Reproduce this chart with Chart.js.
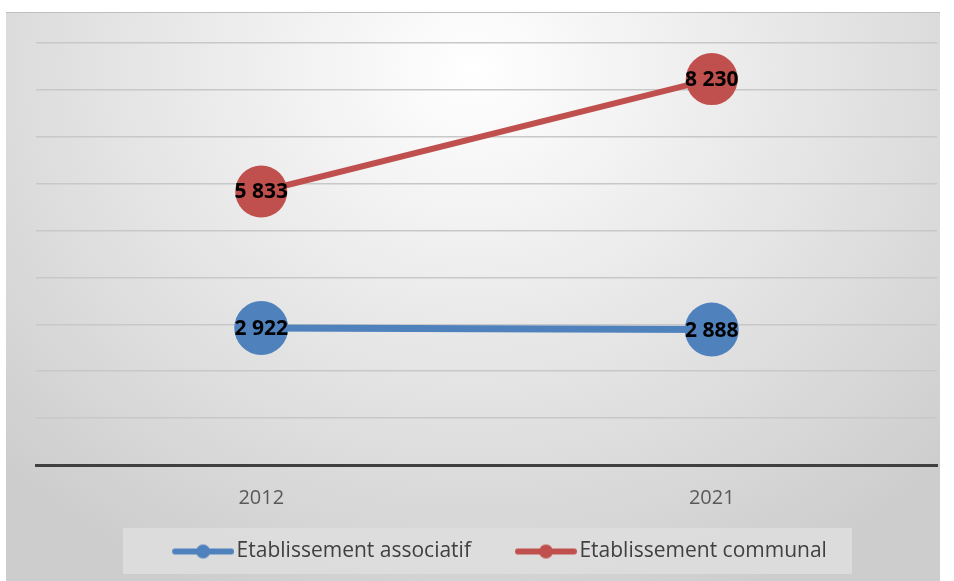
<!DOCTYPE html>
<html>
<head>
<meta charset="utf-8">
<script src="https://cdn.jsdelivr.net/npm/chart.js@4"></script>
<style>
  html, body { margin: 0; padding: 0; background: #fff; }
  #wrap {
    position: absolute; left: 6px; top: 12px; width: 934px; height: 569px;
    border-top: 1px solid #bfbfbf;
    background: radial-gradient(ellipse 70% 100% at 50% 10%, #ffffff 0%, #e4e4e4 55%, #cdcdcd 100%);
  }
</style>
</head>
<body>
<div id="wrap"><canvas id="c" width="934" height="568"></canvas></div>
<script>
// valeurs
const years = ['2012', '2021'];
const associatif = [2922, 2888];
const communal = [5833, 8230];
const seriesNames = ['Etablissement associatif', 'Etablissement communal'];
const seriesColors = ['#4f81bd', '#c0504d'];

const fontFamily = '"Liberation Sans Narrow", "Open Sans", sans-serif';

// icône ligne + rond pour la légende (partie gauche vide = espace entre items)
function legendIcon(color) {
  const cv = document.createElement('canvas');
  cv.width = 96; cv.height = 16;
  const g = cv.getContext('2d');
  g.strokeStyle = color; g.lineWidth = 6; g.lineCap = 'round';
  g.beginPath(); g.moveTo(37, 8); g.lineTo(93, 8); g.stroke();
  g.fillStyle = color;
  g.beginPath(); g.arc(65, 8, 7, 0, Math.PI * 2); g.fill();
  return cv;
}

// étiquettes de valeurs au centre des points
const valueLabels = {
  id: 'valueLabels',
  afterDatasetsDraw(chart) {
    const ctx = chart.ctx;
    ctx.save();
    ctx.font = 'bold 21px ' + fontFamily;
    ctx.fillStyle = '#000';
    ctx.textAlign = 'center';
    ctx.textBaseline = 'middle';
    chart.data.datasets.forEach((ds, i) => {
      chart.getDatasetMeta(i).data.forEach((pt, j) => {
        const txt = ds.data[j].toLocaleString('fr-FR').replace(/\s/g, ' ');
        ctx.fillText(txt, pt.x, pt.y + 1);
      });
    });
    ctx.restore();
  }
};

// cadre gris derrière la légende
const legendBox = {
  id: 'legendBox',
  beforeDraw(chart) {
    const lg = chart.legend;
    if (!lg) return;
    const ctx = chart.ctx;
    ctx.save();
    ctx.fillStyle = 'rgba(222,222,222,0.85)';
    ctx.fillRect(117, lg.top + 5, 729, 46);
    ctx.restore();
  }
};

new Chart(document.getElementById('c'), {
  type: 'line',
  data: {
    labels: years,
    datasets: [
      {
        label: seriesNames[0],
        data: associatif,
        borderColor: seriesColors[0],
        backgroundColor: seriesColors[0],
        borderWidth: 7,
        pointRadius: 27,
        pointHoverRadius: 27,
        pointBorderWidth: 0,
        pointStyle: 'circle'
      },
      {
        label: seriesNames[1],
        data: communal,
        borderColor: seriesColors[1],
        backgroundColor: seriesColors[1],
        borderWidth: 6,
        pointRadius: 26,
        pointHoverRadius: 26,
        pointBorderWidth: 0,
        pointStyle: 'circle'
      }
    ]
  },
  options: {
    responsive: false,
    animation: false,
    layout: { autoPadding: false, padding: { left: 30, right: 3, top: 30, bottom: 9 } },
    plugins: {
      legend: {
        position: 'bottom',
        labels: {
          color: '#404040',
          font: { size: 21, family: fontFamily },
          padding: 18,
          usePointStyle: true,
          pointStyleWidth: 80,
          generateLabels(chart) {
            return chart.data.datasets.map((ds, i) => ({
              text: ds.label,
              fontColor: '#404040',
              pointStyle: legendIcon(seriesColors[i]),
              datasetIndex: i,
              lineWidth: 0,
              strokeStyle: 'transparent',
              fillStyle: 'transparent'
            }));
          }
        }
      },
      tooltip: { enabled: false }
    },
    scales: {
      x: {
        offset: true,
        grid: { display: false },
        border: { color: '#404040', width: 3 },
        ticks: { color: '#595959', font: { size: 20, family: fontFamily }, padding: 13 }
      },
      y: {
        min: 0,
        max: 9000,
        ticks: { display: false, stepSize: 1000 },
        border: { display: false },
        grid: { color: '#c8c8c8', lineWidth: 1.5, drawTicks: false }
      }
    }
  },
  plugins: [legendBox, valueLabels]
});
</script>
</body>
</html>
